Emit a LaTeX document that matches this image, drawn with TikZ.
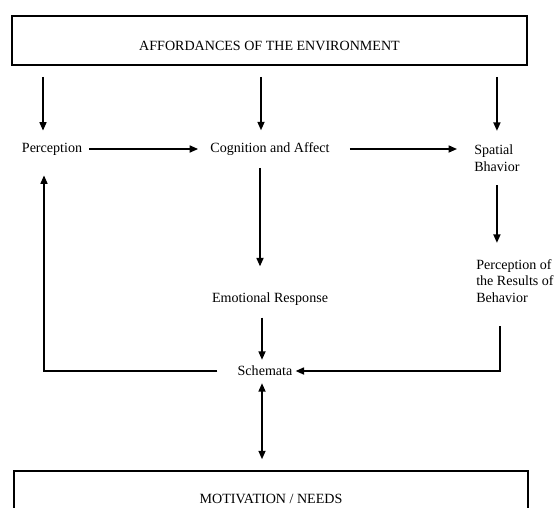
\documentclass[tikz,border=0pt]{standalone}
\usepackage{fontspec}
\setmainfont{Liberation Serif}
\usepackage{tikz}
\usetikzlibrary{calc,arrows.meta}

\tikzset{
  lbl/.style={font=\fontsize{10}{12}\selectfont, inner sep=0pt},
  bigbox/.style={draw, line width=1.1pt, inner sep=0pt, font=\fontsize{10}{12}\selectfont},
  arr/.style={-{Triangle[length=6pt,width=5pt]}, line width=1.1pt},
  dblarr/.style={{Triangle[length=6pt,width=5pt]}-{Triangle[length=6pt,width=5pt]}, line width=1.1pt}
}

\begin{document}
\begin{tikzpicture}[x=0.025cm, y=-0.025cm]
\clip (0,0) rectangle (557,507);

\node[bigbox, minimum width=12.875cm, minimum height=1.225cm, text height=14.4pt, text depth=0pt] (env) at (269.5,40.5) {AFFORDANCES OF THE ENVIRONMENT};

\node[lbl] (perc) at (52,149) {Perception};
\node[lbl] (cog) at (270,149) {Cognition and Affect};
\node[lbl, anchor=west, align=left] (spat) at (474,158.5) {Spatial\\Bhavior};
\node[lbl] (emo) at (270,299) {Emotional Response};
\node[lbl, anchor=west, align=left] (res) at (476,281) {Perception of\\the Results of\\Behavior};
\node[lbl] (schem) at (265,371) {Schemata};

\node[bigbox, minimum width=12.85cm, minimum height=1.4cm, text height=6.8pt, text depth=0pt] (needs) at (271,499) {MOTIVATION / NEEDS};

\draw[arr] ($(env.south -| perc)+(-9,11)$) -- ($(perc.north)+(-9,-12)$);
\draw[arr] ($(env.south -| cog)+(-9,11)$) -- ($(cog.north)+(-9,-12)$);
\draw[arr] ($(env.south -| spat.north)+(0,11)$) -- ($(spat.north)+(0,-14)$);

\draw[arr] ($(perc.east)+(7,0)$) -- ($(cog.west)+(-12,0)$);
\draw[arr] ($(cog.east)+(20,0)$) -- ($(cog.east -| spat.west)+(-17,0)$);
\draw[arr] ($(spat.south)+(0,13)$) -- ($(spat.south |- res.north)+(0,-16)$);
\draw[arr] ($(cog.south)+(-10,12)$) -- ($(emo.north)+(-10,-26)$);
\draw[arr] ($(emo.south)+(-8,12)$) -- ($(schem.north)+(-3,-6)$);
\draw[arr] ($(res.south west)+(24,23)$) |- ($(schem.east)+(3,0)$);
\draw[arr] ($(schem.west)+(-20,0)$) -| ($(perc.south)+(-8,20)$);
\draw[dblarr] ($(schem.south)+(-3,7)$) -- ($(needs.north)+(-9,-11)$);
\end{tikzpicture}
\end{document}
